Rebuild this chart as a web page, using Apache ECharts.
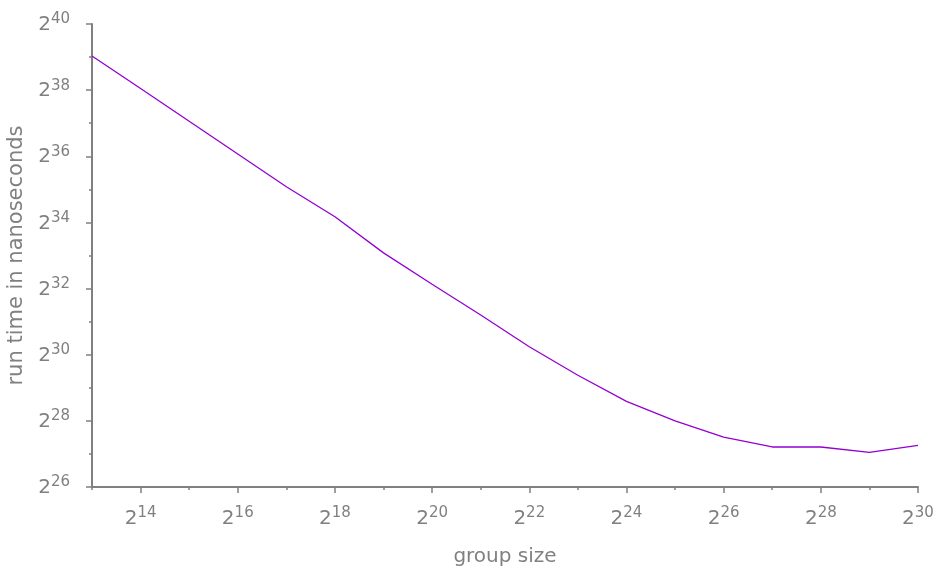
<!DOCTYPE html>
<html>
<head>
<meta charset="utf-8">
<script src="https://cdn.jsdelivr.net/npm/echarts@6/dist/echarts.min.js"></script>
<style>
  html, body { margin: 0; padding: 0; background: #fff; }
  #chart { width: 938px; height: 569px; }
</style>
</head>
<body>
<div id="chart"></div>
<script>
// log2 of the group size
const groupSizeLog2 = [13, 14, 15, 16, 17, 18, 19, 20, 21, 22, 23, 24, 25, 26, 27, 28, 29, 30];
// log2 of the measured run time (ns)
const runTimeLog2 = [39.03, 38.05, 37.06, 36.07, 35.08, 34.17, 33.08, 32.13, 31.2, 30.24,
                     29.38, 28.59, 28.0, 27.51, 27.21, 27.21, 27.05, 27.26];

// labelled (major) and unlabelled (minor) powers of two on each axis
const xMajor = [14, 16, 18, 20, 22, 24, 26, 28, 30];
const xMinor = [13, 15, 17, 19, 21, 23, 25, 27, 29];
const yMajor = [26, 28, 30, 32, 34, 36, 38, 40];
const yMinor = [27, 29, 31, 33, 35, 37, 39];

const grey = '#808080';
const font = 'DejaVu Sans';

const powerRich = {
  b: { fontSize: 20, fontFamily: font, color: grey, lineHeight: 22, verticalAlign: 'bottom' },
  s: { fontSize: 15, fontFamily: font, color: grey, lineHeight: 17, verticalAlign: 'bottom', padding: [0, 0, 8, 0] }
};
const powerLabel = v => '{b|2}{s|' + v + '}';

function majorAxis(min, max, major, extra) {
  return Object.assign({
    type: 'value', min: min, max: max, interval: 1,
    axisLine: { show: true, lineStyle: { color: grey, width: 2 } },
    axisTick: { show: true, customValues: major, length: 6, lineStyle: { color: grey, width: 1.5 } },
    axisLabel: { customValues: major, formatter: powerLabel, rich: powerRich },
    splitLine: { show: false }
  }, extra);
}
function minorAxis(min, max, minor, extra) {
  return Object.assign({
    type: 'value', min: min, max: max, interval: 1,
    axisLine: { show: false },
    axisTick: { show: true, customValues: minor, length: 3, lineStyle: { color: grey, width: 1.5 } },
    axisLabel: { show: false },
    splitLine: { show: false }
  }, extra);
}

const chart = echarts.init(document.getElementById('chart'), null, { renderer: 'canvas' });
chart.setOption({
  animation: false,
  backgroundColor: '#ffffff',
  grid: { left: 92, right: 20, top: 24, bottom: 82, containLabel: false, outerBoundsMode: 'none' },
  xAxis: [
    majorAxis(13, 30, xMajor, {
      position: 'bottom',
      name: 'group size', nameLocation: 'middle', nameGap: 60,
      nameTextStyle: { fontSize: 20, fontFamily: font, color: grey },
      axisLabel: { customValues: xMajor, formatter: powerLabel, rich: powerRich, margin: 20 }
    }),
    minorAxis(13, 30, xMinor, { position: 'bottom' })
  ],
  yAxis: [
    majorAxis(26, 40, yMajor, {
      position: 'left',
      name: 'run time in nanoseconds', nameLocation: 'middle', nameGap: 62,
      nameTextStyle: { fontSize: 21, fontFamily: font, color: grey },
      axisLabel: { customValues: yMajor, formatter: powerLabel, rich: powerRich, margin: 22 }
    }),
    minorAxis(26, 40, yMinor, { position: 'left' })
  ],
  series: [{
    type: 'line',
    xAxisIndex: 0, yAxisIndex: 0,
    data: groupSizeLog2.map((x, i) => [x, runTimeLog2[i]]),
    showSymbol: false,
    symbol: 'none',
    lineStyle: { color: '#9400D3', width: 1.3 },
    silent: true
  }]
});
</script>
</body>
</html>
